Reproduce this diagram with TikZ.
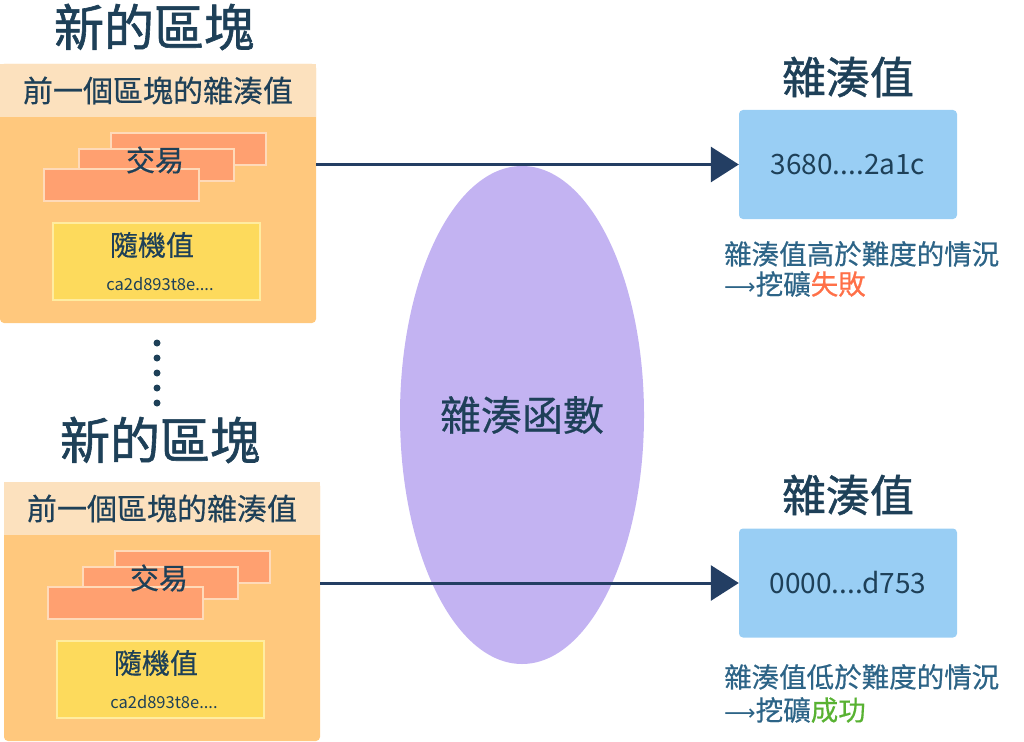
\documentclass[tikz,border=0pt]{standalone}
\usepackage{fontspec}
\setmainfont{Noto Sans CJK TC}
\newfontfamily\medfont[FakeBold=1.2]{Noto Sans CJK TC}
\newfontfamily\semifont[FakeBold=0.5]{Noto Sans CJK TC}
\newfontfamily\symfont{DejaVu Sans}
\usetikzlibrary{arrows.meta,positioning,shapes.geometric}
\definecolor{ink}{RGB}{30,64,88}
\definecolor{notec}{RGB}{45,100,135}
\definecolor{head}{RGB}{252,225,190}
\definecolor{body}{RGB}{255,200,125}
\definecolor{txfill}{RGB}{255,160,112}
\definecolor{txline}{RGB}{255,218,185}
\definecolor{noncefill}{RGB}{253,218,92}
\definecolor{nonceline}{RGB}{255,236,160}
\definecolor{fnfill}{RGB}{195,179,242}
\definecolor{hashfill}{RGB}{153,206,244}
\definecolor{arrowc}{RGB}{35,62,99}
\definecolor{fail}{RGB}{255,112,72}
\definecolor{ok}{RGB}{88,178,50}

\tikzset{
  tx/.style={fill=txfill,draw=txline,line width=1.5pt,minimum width=155pt,minimum height=32pt,inner sep=0pt},
  hashbox/.style={fill=hashfill,rounded corners=4pt,minimum width=218pt,minimum height=109pt,inner sep=0pt,text=ink,font=\fontsize{28}{32}\selectfont},
  notetxt/.style={anchor=west,inner sep=0pt,text=notec,font=\semifont\fontsize{27.5}{30}\selectfont},
  bigtitle/.style={text=ink,font=\medfont\fontsize{50}{54}\selectfont},
  hvtitle/.style={text=ink,font=\medfont\fontsize{44}{48}\selectfont},
}

\begin{document}
\begin{tikzpicture}[x=1pt, y=-1pt, >={Triangle[length=28pt,width=35pt]}, font=\fontsize{28}{32}\selectfont]
\useasboundingbox (0,0) rectangle (1024,741);

% the two blocks
\foreach \n/\dx/\dy/\tx/\ty in {1/0/0/154/27,2/4/418/156/22}{
  \begin{scope}[shift={(\dx,\dy)}]
    \node(title\n)[bigtitle] at (\tx,\ty){新的區塊};
    \node(blk\n)[fill=body,rounded corners=4pt,minimum width=316pt,minimum height=259pt,inner sep=0pt] at (158,193.5){};
    \node(hdr\n)[fill=head,minimum width=316pt,minimum height=53pt,inner sep=0pt,text=ink,font=\semifont\fontsize{30}{34}\selectfont] at (158,90.5){前一個區塊的雜湊值};
    \node(txa\n)[tx] at (188.5,149){};
    \node(txb\n)[tx] at (156.5,165){};
    \node(txc\n)[tx] at (121.5,185){};
    \node(txt\n)[text=ink,font=\semifont\fontsize{29}{32}\selectfont] at (155,160){交易};
    \node(nonce\n)[fill=noncefill,draw=nonceline,line width=1.5pt,minimum width=207pt,minimum height=77pt,inner sep=0pt] at (156.5,261.5){};
    \node(noncet\n)[text=ink,font=\semifont\fontsize{28}{30}\selectfont] at (152,245){隨機值};
    \node(noncev\n)[text=ink,font=\fontsize{16.5}{20}\selectfont] at (160,284){ca2d893t8e....};
  \end{scope}
}

% dots between blocks
\foreach \y in {343,358,...,403} \fill[ink] (157,\y) circle (3.5pt);

% hash function
\node(hashfn)[ellipse,fill=fnfill,minimum width=244pt,minimum height=498pt,inner sep=0pt,text=ink,font=\semifont\fontsize{41}{44}\selectfont] at (522,415){雜湊函數};

% hash values
\node(hv1)[hashbox] at (848,164.5){3680....2a1c};
\node(hvt1)[hvtitle] at (848,77){雜湊值};
\node(note1)[notetxt] at (724,254){雜湊值高於難度的情況};
\node(res1)[notetxt] at (724,284){{\symfont\fontsize{22}{26}\selectfont ⟶}挖礦\textcolor{fail}{失敗}};

\node(hv2)[hashbox] at (848,583){0000....d753};
\node(hvt2)[hvtitle] at (848,495){雜湊值};
\node(note2)[notetxt] at (724,677){雜湊值低於難度的情況};
\node(res2)[notetxt] at (724,710){{\symfont\fontsize{22}{26}\selectfont ⟶}挖礦\textcolor{ok}{成功}};

% Arrows
\draw[->,line width=3pt,arrowc] (blk1.east |- hv1.west) -- (hv1.west);
\draw[->,line width=3pt,arrowc] (blk2.east |- hv2.west) -- (hv2.west);
\end{tikzpicture}
\end{document}
